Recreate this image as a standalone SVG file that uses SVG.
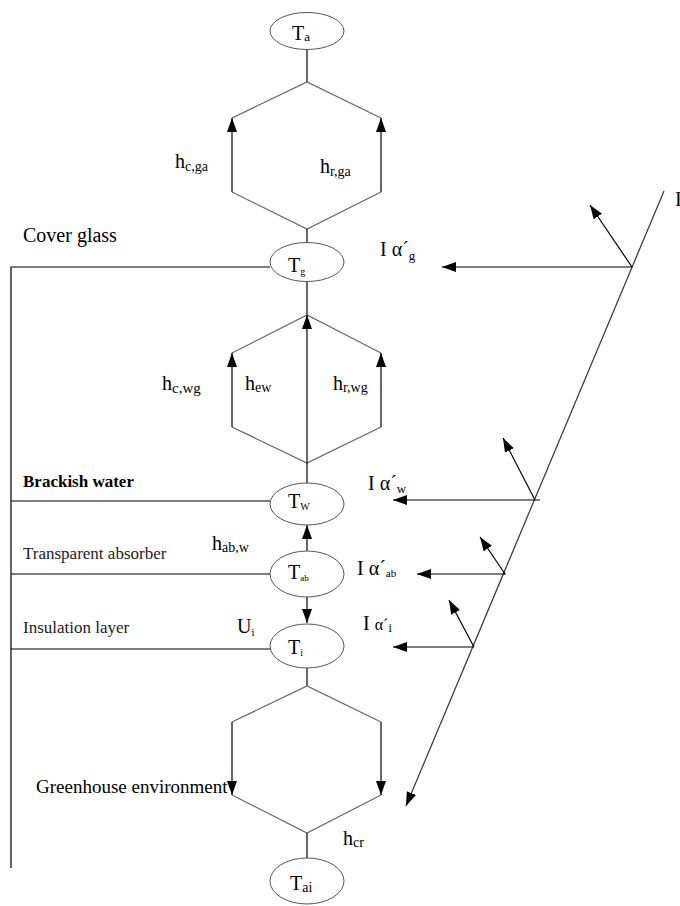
<svg xmlns="http://www.w3.org/2000/svg" width="680" height="906" viewBox="0 0 680 906">
<style>
text{font-family:"Liberation Serif","Times New Roman",serif;fill:#000}
.t{font-size:20px}
.lab{font-size:17px;fill:#222}
.ell{fill:#fff;stroke:#555;stroke-width:1}
.v{stroke:#000;stroke-width:1.2;fill:none}
.d{stroke:#666;stroke-width:1.2;fill:none}
.s{stroke:#444;stroke-width:1.2;fill:none}
.a{stroke:#000;stroke-width:1.2;fill:none;marker-end:url(#ah)}
.ag{stroke:#333;stroke-width:1.2;fill:none;marker-end:url(#ah)}
</style>
<defs>
<marker id="ah" viewBox="0 0 14 10" refX="14" refY="5" markerWidth="14" markerHeight="10" orient="auto" markerUnits="userSpaceOnUse">
<path d="M0,0 L14,5 L0,10 z" fill="#000"/>
</marker>
</defs>
<rect width="680" height="906" fill="#fff"/>
<g id="connectors">
<!-- layer lines -->
<path class="v" d="M11,868 V267 H270"/>
<path class="v" d="M11,501 H270"/>
<path class="v" d="M11,574 H270"/>
<path class="v" d="M11,649 H270"/>
<!-- hex 1 -->
<path class="v" d="M307,50 V82"/>
<path class="d" d="M232,118 L307,82 L381,118"/>
<path class="d" d="M232,192 L307,229 L381,192"/>
<path class="a" d="M232,192 V118"/>
<path class="a" d="M381,192 V118"/>
<path class="v" d="M307,229 V243"/>
<!-- hex 2 -->
<path class="v" d="M307,281 V315"/>
<path class="d" d="M232,353 L307,315 L381,353"/>
<path class="d" d="M232,427 L307,463 L381,427"/>
<path class="a" d="M232,427 V353"/>
<path class="a" d="M381,427 V353"/>
<path class="a" d="M307,463 V315"/>
<path class="v" d="M307,463 V484"/>
<!-- middle -->
<path class="a" d="M307,551 V525"/>
<path class="a" d="M307,597 V623"/>
<!-- hex 3 -->
<path class="v" d="M307,668 V686"/>
<path class="d" d="M232,722 L307,686 L381,722"/>
<path class="d" d="M232,795 L307,833 L381,795"/>
<path class="a" d="M232,722 V795"/>
<path class="a" d="M381,722 V795"/>
<path class="v" d="M307,833 V858"/>
<!-- solar -->
<path class="ag" d="M664,191 L406,806"/>
<path class="a" d="M632,267 H442"/>
<path class="a" d="M632,267 L590,205"/>
<path class="a" d="M540,500 H393"/>
<path class="a" d="M535,500 L503,438"/>
<path class="a" d="M506,574 H417"/>
<path class="a" d="M505,574 L480,537"/>
<path class="a" d="M474,647 H393"/>
<path class="a" d="M474,647 L449,600"/>
</g>
<g id="Ta"><ellipse class="ell" cx="307" cy="31" rx="37" ry="18.5"/><text class="t" x="292" y="40">T<tspan font-size="13" dy="1">a</tspan></text></g>
<g id="Tg"><ellipse class="ell" cx="307" cy="262" rx="37" ry="19.5"/><text class="t" x="288" y="272">T<tspan font-size="10" dy="3">g</tspan></text></g>
<g id="Tw"><ellipse class="ell" cx="307" cy="504" rx="37" ry="21"/><text class="t" x="288" y="508">T<tspan font-size="10" dy="2">W</tspan></text></g>
<g id="Tab"><ellipse class="ell" cx="307" cy="574" rx="37" ry="23"/><text class="t" x="288" y="579">T<tspan font-size="9" dy="2">ab</tspan></text></g>
<g id="Ti"><ellipse class="ell" cx="307" cy="646" rx="37" ry="22"/><text class="t" x="288" y="654">T<tspan font-size="10" dy="2">i</tspan></text></g>
<g id="Tai"><ellipse class="ell" cx="307" cy="881" rx="37" ry="23"/><text class="t" x="290" y="890">T<tspan font-size="14" dy="2">ai</tspan></text></g>
<g id="labels">
<text class="t" x="23" y="242">Cover glass</text>
<text x="23" y="487" font-size="17" font-weight="bold">Brackish water</text>
<text class="lab" x="23" y="559">Transparent absorber</text>
<text class="lab" x="23" y="633">Insulation layer</text>
<text x="36" y="793" font-size="19">Greenhouse environment</text>
<text class="t" x="175" y="168">h<tspan font-size="14" dy="3">c,ga</tspan></text>
<text class="t" x="320" y="173">h<tspan font-size="14" dy="3">r,ga</tspan></text>
<text class="t" x="162" y="390">h<tspan font-size="15" dy="3">c,wg</tspan></text>
<text class="t" x="245" y="390">h<tspan font-size="14" dy="2">ew</tspan></text>
<text class="t" x="333" y="390">h<tspan font-size="14" dy="2">r,wg</tspan></text>
<text class="t" x="212" y="550">h<tspan font-size="14" dy="2">ab,w</tspan></text>
<text class="t" x="237" y="633">U<tspan font-size="11" dy="3">i</tspan></text>
<text class="t" x="343" y="845">h<tspan font-size="14" dy="2">cr</tspan></text>
<text class="t" x="380" y="256">I α´<tspan font-size="13" dy="4">g</tspan></text>
<text class="t" x="368" y="490">I α´<tspan font-size="13" dy="3">w</tspan></text>
<text class="t" x="357" y="575">I α´<tspan font-size="11" dy="2">ab</tspan></text>
<text class="t" x="363" y="630">I <tspan font-size="16">α´</tspan><tspan font-size="12" dy="2">i</tspan></text>
<text class="t" x="675" y="206">I</text>
</g>
</svg>
